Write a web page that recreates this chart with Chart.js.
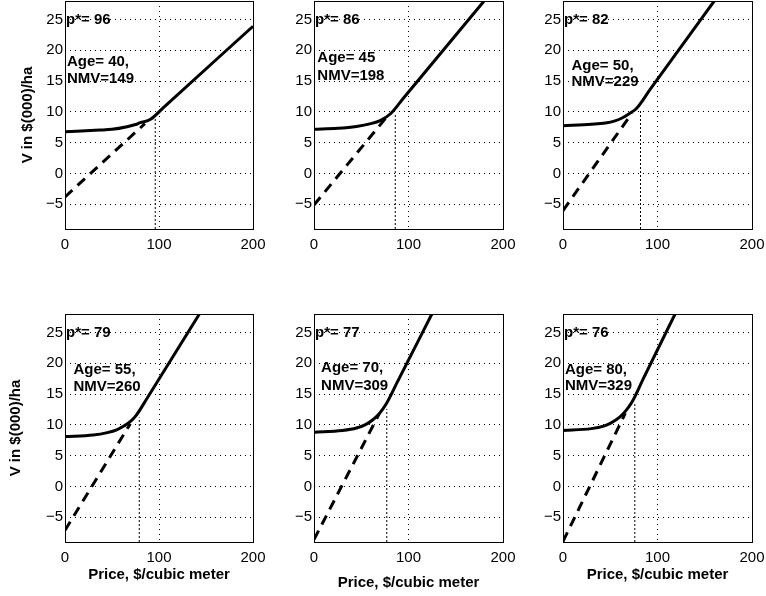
<!DOCTYPE html>
<html>
<head>
<meta charset="utf-8">
<title>Stand value vs price</title>
<script src="https://cdn.jsdelivr.net/npm/chart.js"></script>
<style>
  body { margin: 0; background: #fff; }
  #wrap { position: relative; width: 766px; height: 596px; overflow: hidden; background: #fff; }
  #wrap canvas { position: absolute; }
</style>
</head>
<body>
<div id="wrap"></div>
<script>
// axis ranges and tick labels
const priceRange = [0, 200];
const valueRange = [-9, 28];
const priceTicks = [0, 100, 200];
const valueTicks = [-5, 0, 5, 10, 15, 20, 25];

// stand info, one entry per panel
const ageLabels = ["Age= 40,", "Age= 45", "Age= 50,", "Age= 55,", "Age= 70,", "Age= 80,"];
const nmvs = [149, 198, 229, 260, 309, 329];
const pStars = [96, 86, 82, 79, 77, 76];
const pStarTops = [9.3, 9.6, 10.4, 11.2, 12.6, 13.4];

// solid curve: value of the stand
const curvePrices = [
  [0, 37, 50, 66, 75, 80, 91, 105, 200],
  [0, 25, 45, 60, 70, 81, 95, 180],
  [0, 30, 45, 55, 63, 70, 78, 92, 160],
  [0, 30, 45, 55, 63, 70, 75.5, 88, 143],
  [0, 30, 45, 55, 62, 69, 76, 88, 124.7],
  [0, 30, 43, 50, 60, 67, 73, 85, 118.6]
];
const curveValues = [
  [6.8, 7.05, 7.17, 7.6, 7.95, 8.25, 8.8, 10.75, 23.9],
  [7.2, 7.35, 7.65, 8.1, 8.6, 9.7, 12.3, 28],
  [7.75, 8.0, 8.2, 8.55, 9.05, 9.7, 10.6, 13.6, 28],
  [8.1, 8.35, 8.75, 9.2, 9.85, 10.6, 11.5, 14.5, 28],
  [8.8, 9.1, 9.5, 10.1, 10.8, 11.8, 13.3, 16.9, 28],
  [9.1, 9.4, 9.8, 10.25, 11.25, 12.4, 13.7, 17.5, 28]
];

// dashed line: value of harvesting now
const harvestPrices = [[0, 85], [0, 76.5], [0, 73], [0, 69.5], [0, 69], [0, 66]];
const harvestValues = [[-3.8, 8.1], [-5.1, 9.1], [-6.0, 9.8], [-7.1, 10.2], [-8.6, 11.8], [-8.9, 11.9]];

// layout of the six panels (pixels) and text spots (data units)
const FONT = '"Liberation Sans", Arial, Helvetica, sans-serif';
const panels = [
  { left: 0,   top: 0,   width: 270, height: 290, padTop: 1,  padRight: 17, axisH: 61, yTitle: 18.5, xTitle: null },
  { left: 249, top: 0,   width: 270, height: 290, padTop: 1,  padRight: 16, axisH: 61, yTitle: null, xTitle: null },
  { left: 498, top: 0,   width: 268, height: 290, padTop: 1,  padRight: 14, axisH: 61, yTitle: null, xTitle: null },
  { left: 0,   top: 290, width: 270, height: 306, padTop: 24, padRight: 17, axisH: 54, yTitle: 7,    xTitle: 12 },
  { left: 249, top: 290, width: 270, height: 306, padTop: 24, padRight: 16, axisH: 54, yTitle: null, xTitle: 4 },
  { left: 498, top: 290, width: 268, height: 306, padTop: 24, padRight: 14, axisH: 54, yTitle: null, xTitle: 12 }
];
const textSpots = [
  { x: 2, age: 18.2, nmv: 15.4 },
  { x: 3.5, age: 18.8, nmv: 15.9 },
  { x: 9, age: 17.5, nmv: 14.8 },
  { x: 9, age: 19.0, nmv: 16.2 },
  { x: 7.5, age: 19.2, nmv: 16.4 },
  { x: 2, age: 18.9, nmv: 16.3 }
];

// box round the plot + text labels
const decor = {
  id: 'decor',
  afterDatasetsDraw(chart, args, opts) {
    const { ctx, chartArea: a, scales: { x, y } } = chart;
    ctx.save();
    ctx.strokeStyle = '#000';
    ctx.lineWidth = 1;
    ctx.setLineDash([]);
    ctx.strokeRect(a.left + 0.5, a.top + 0.5, a.right - a.left, a.bottom - a.top);
    ctx.fillStyle = '#000';
    ctx.font = 'bold 15px ' + FONT;
    ctx.textBaseline = 'middle';
    ctx.textAlign = 'left';
    ctx.fillText('p*= ' + opts.pStar, a.left + 1, y.getPixelForValue(25));
    ctx.fillText(opts.ageLabel, x.getPixelForValue(opts.spot.x), y.getPixelForValue(opts.spot.age));
    ctx.fillText('NMV=' + opts.nmv, x.getPixelForValue(opts.spot.x), y.getPixelForValue(opts.spot.nmv));
    ctx.restore();
  }
};

const wrap = document.getElementById('wrap');

panels.forEach((pn, i) => {
  const canvas = document.createElement('canvas');
  canvas.width = pn.width;
  canvas.height = pn.height;
  canvas.style.left = pn.left + 'px';
  canvas.style.top = pn.top + 'px';
  wrap.appendChild(canvas);

  const solid = curvePrices[i].map((p, k) => ({ x: p, y: curveValues[i][k] }));
  const dashed = harvestPrices[i].map((p, k) => ({ x: p, y: harvestValues[i][k] }));
  const pLine = [{ x: pStars[i], y: valueRange[0] }, { x: pStars[i], y: pStarTops[i] }];

  new Chart(canvas, {
    type: 'line',
    data: {
      datasets: [
        { data: solid, borderColor: '#000', borderWidth: 3, pointRadius: 0, cubicInterpolationMode: 'monotone', fill: false, clip: 0, borderJoinStyle: 'round' },
        { data: dashed, borderColor: '#000', borderWidth: 3, pointRadius: 0, borderDash: [10, 7], fill: false, clip: 0 },
        { data: pLine, borderColor: '#000', borderWidth: 1, pointRadius: 0, borderDash: [2, 2], fill: false, clip: 0 }
      ]
    },
    options: {
      responsive: false,
      animation: false,
      devicePixelRatio: 1,
      layout: { padding: { left: 0, top: pn.padTop, right: pn.padRight, bottom: 0 } },
      plugins: {
        legend: { display: false },
        tooltip: { enabled: false },
        decor: { pStar: pStars[i], ageLabel: ageLabels[i], nmv: nmvs[i], spot: textSpots[i] }
      },
      scales: {
        x: {
          type: 'linear',
          position: 'bottom',
          min: priceRange[0],
          max: priceRange[1],
          afterBuildTicks: s => { s.ticks = priceTicks.map(v => ({ value: v })); },
          afterFit: s => { s.height = pn.axisH; s.paddingLeft = 0; s.paddingRight = 0; },
          ticks: { color: '#000', font: { family: FONT, size: 15 }, padding: 7, maxRotation: 0 },
          grid: { color: '#000', lineWidth: 1, drawTicks: false },
          border: { display: false, dash: [1, 4] },
          title: {
            display: pn.xTitle !== null,
            text: 'Price, $/cubic meter',
            color: '#000',
            font: { family: FONT, size: 15, weight: 'bold' },
            padding: { top: 0, bottom: pn.xTitle || 0 }
          }
        },
        y: {
          type: 'linear',
          min: valueRange[0],
          max: valueRange[1],
          afterBuildTicks: s => { s.ticks = valueTicks.map(v => ({ value: v })); },
          afterFit: s => { s.width = 65; s.paddingTop = 0; s.paddingBottom = 0; },
          ticks: {
            color: '#000',
            font: { family: FONT, size: 15 },
            padding: 2,
            callback: v => String(v).replace('-', '\u2212')
          },
          grid: { color: '#000', lineWidth: 1, drawTicks: false },
          border: { display: false, dash: [1, 4] },
          title: {
            display: pn.yTitle !== null,
            text: 'V in $(000)/ha',
            color: '#000',
            font: { family: FONT, size: 15, weight: 'bold' },
            padding: { top: pn.yTitle || 0, bottom: 0 }
          }
        }
      }
    },
    plugins: [decor]
  });
});
</script>
</body>
</html>
